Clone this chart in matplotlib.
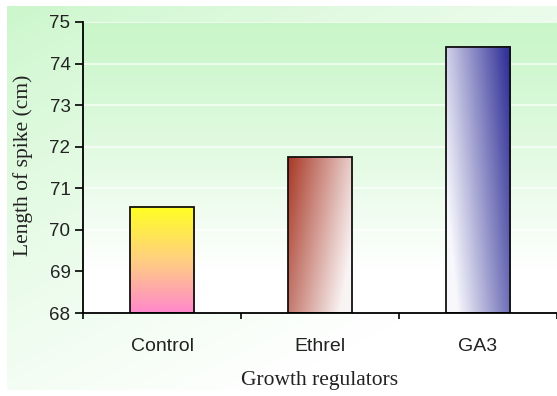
import numpy as np
import matplotlib
matplotlib.use('Agg')
import matplotlib.pyplot as plt
from matplotlib.colors import LinearSegmentedColormap

# spike length by growth regulator
regulators = ['Control', 'Ethrel', 'GA3']
spike_length = [70.55, 71.75, 74.4]
y_ticks = [68, 69, 70, 71, 72, 73, 74, 75]

W, H = 557, 396
fig = plt.figure(figsize=(W / 100, H / 100), dpi=100)

# figure background: green in the top left fading to white
bg = fig.add_axes([0, 0, 1, 1], zorder=-10)
bg.set_axis_off()
yy, xx = np.mgrid[0:H, 0:W]
fade = np.clip(0.55 * xx / W + 0.75 * yy / H, 0, 1) ** 0.8
green = np.array([0.79, 0.965, 0.79])
img = green[None, None, :] * (1 - fade[..., None]) + np.ones(3) * fade[..., None]
img[:6, :, :] = 1
img[:, :7, :] = 1
img[390:, :, :] = 1
bg.imshow(img, extent=(0, 1, 0, 1), aspect='auto', origin='upper')
bg.set_xlim(0, 1)
bg.set_ylim(0, 1)

ax = fig.add_axes([83 / W, 1 - 313 / H, 1 - 83 / W, (313 - 22) / H])
ax.set_xlim(0, len(regulators))
ax.set_ylim(y_ticks[0], y_ticks[-1])
ax.patch.set_visible(False)

# plot area: green at top, white toward the bottom
col = np.linspace(0, 1, 200)[:, None]
shade = np.clip(col / 0.85, 0, 1) ** 1.2
area = green[None, None, :] * (1 - shade[..., None]) + np.ones(3) * shade[..., None]
area = np.repeat(area, 2, axis=1)
ax.imshow(area, extent=(0, len(regulators), y_ticks[0], y_ticks[-1]),
          aspect='auto', origin='upper', zorder=0)

for t in y_ticks[1:]:
    ax.axhline(t, color='white', lw=1.2, alpha=0.8, zorder=1)

# gradient fills for each bar
nx, ny = 60, 200
gx = np.linspace(0, 1, nx)[None, :].repeat(ny, axis=0)
gy = np.linspace(0, 1, ny)[:, None].repeat(nx, axis=1)  # 0 = top

ctrl_cmap = LinearSegmentedColormap.from_list('c', ['#ffff22', '#ffd080', '#ff88cc'])
control_img = ctrl_cmap(gy)

red_dark = np.array([0.66, 0.22, 0.15])
red_light = np.array([0.98, 0.96, 0.96])
t = np.clip(0.8 * (1 - gx) + 0.35 * (1 - gy) - 0.15, 0, 1)
ethrel_img = red_light * (1 - t[..., None]) + red_dark * t[..., None]

blue_dark = np.array([0.20, 0.20, 0.60])
blue_light = np.array([0.97, 0.97, 0.99])
t = np.clip(0.85 * gx + 0.35 * (1 - gy) - 0.15, 0, 1)
ga3_img = blue_light * (1 - t[..., None]) + blue_dark * t[..., None]

fills = [control_img, ethrel_img, ga3_img]
width = 0.41
for i, v in enumerate(spike_length):
    x0 = i + 0.5 - width / 2
    ax.imshow(fills[i], extent=(x0, x0 + width, y_ticks[0], v),
              aspect='auto', origin='upper', zorder=2)
ax.bar(np.arange(len(regulators)) + 0.5, [v - y_ticks[0] for v in spike_length],
       width=width, bottom=y_ticks[0], facecolor='none', edgecolor='#111111',
       lw=1.3, zorder=3)

for s in ['top', 'right']:
    ax.spines[s].set_visible(False)
for s in ['left', 'bottom']:
    ax.spines[s].set_linewidth(1.3)
    ax.spines[s].set_zorder(4)

ax.set_yticks(y_ticks)
ax.set_yticklabels([str(t) for t in y_ticks], fontfamily='Liberation Sans',
                   fontsize=13.5, color='#222222')
ax.tick_params(axis='y', length=6, width=1.2, pad=3)

# ticks at category boundaries, labels at centres
ax.set_xticks(range(len(regulators) + 1))
ax.set_xticklabels([])
ax.set_xticks(np.arange(len(regulators)) + 0.5, minor=True)
ax.set_xticklabels(regulators, minor=True, fontfamily='Liberation Sans',
                   fontsize=14, color='#222222')
ax.tick_params(axis='x', which='major', length=4, width=1.2)
ax.tick_params(axis='x', which='minor', length=0, pad=18)

fig.text(320 / W, 1 - 381 / H, 'Growth regulators', ha='center', va='center',
         fontfamily='Liberation Serif', fontsize=15.5, color='#222222')
fig.text(23 / W, 1 - 165 / H, 'Length of spike (cm)', ha='center', va='center',
         rotation=90, fontfamily='Liberation Serif', fontsize=15.5, color='#222222')

fig.savefig('out.png', dpi=100)
